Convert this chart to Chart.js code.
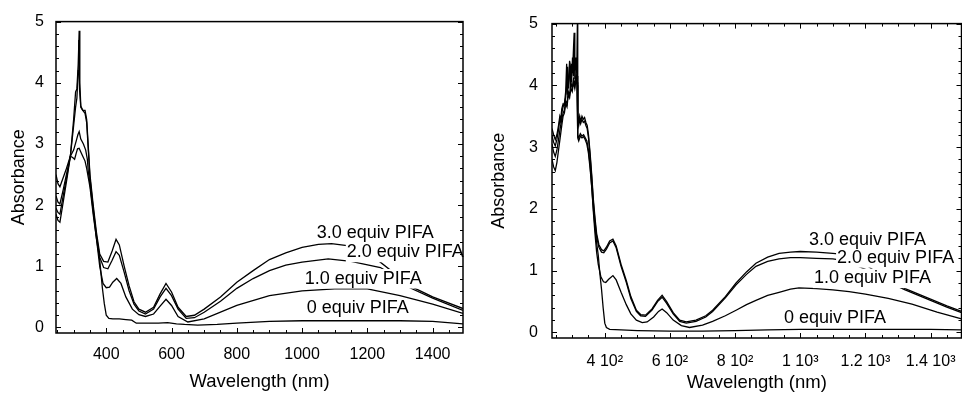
<!DOCTYPE html>
<html lang="en">
<head>
    <meta charset="UTF-8">
    <title>Absorbance vs wavelength - PIFA titration</title>
    <script src="https://cdn.jsdelivr.net/npm/chart.js"></script>
    <style>
        html, body {
            margin: 0;
            padding: 0;
            background: #fff;
            overflow: hidden;
        }
        #leftChart {
            position: absolute;
            left: 0;
            top: 0;
        }
        #rightChart {
            position: absolute;
            left: 480px;
            top: 0;
        }
    </style>
</head>
<body>
    <canvas id="leftChart" width="480" height="394"></canvas>
    <canvas id="rightChart" width="490" height="394"></canvas>

    <script>
        // series names (same for both panels)
        var seriesNames = ['0 equiv PIFA', '1.0 equiv PIFA', '2.0 equiv PIFA', '3.0 equiv PIFA'];

        // left panel: [wavelength nm, absorbance]
        var left0 = [[246,2.5],[252,2.35],[258,2.3],[266,2.42],[278,2.6],[290,2.8],[297,2.78],[303,2.75],[308,2.85],[312,2.92],[317,2.93],[322,2.87],[328,2.8],[335,2.72],[340,2.6],[345,2.45],[350,2.3],[360,1.85],[370,1.45],[380,1.1],[388,0.65],[394,0.39],[400,0.2],[408,0.15],[420,0.14],[440,0.14],[460,0.13],[478,0.12],[492,0.07],[520,0.07],[560,0.07],[588,0.08],[615,0.06],[640,0.05],[680,0.04],[740,0.05],[800,0.07],[900,0.1],[1000,0.11],[1150,0.11],[1300,0.11],[1400,0.1],[1493,0.06]];
        var left1 = [[246,2.15],[252,2.05],[258,2.02],[268,2.25],[280,2.55],[290,2.8],[300,2.9],[308,3.05],[313,3.15],[317,3.2],[322,3.08],[330,3.0],[337,2.9],[342,2.75],[345,2.55],[350,2.35],[360,1.9],[370,1.45],[380,1.0],[390,0.72],[400,0.65],[410,0.66],[420,0.74],[432,0.8],[445,0.72],[460,0.5],[480,0.3],[500,0.21],[520,0.18],[545,0.22],[565,0.35],[583,0.46],[600,0.36],[620,0.18],[650,0.09],[700,0.14],[800,0.36],[900,0.52],[1000,0.6],[1100,0.63],[1200,0.63],[1300,0.52],[1400,0.38],[1493,0.23]];
        var left2 = [[246,1.95],[252,1.88],[258,1.85],[268,2.15],[280,2.5],[290,2.8],[300,3.3],[306,3.6],[310,3.75],[314,4.2],[316,4.7],[318,3.9],[322,3.6],[328,3.55],[335,3.5],[340,3.35],[350,2.45],[360,1.95],[370,1.5],[380,1.15],[392,0.98],[405,0.96],[418,1.1],[430,1.24],[440,1.18],[455,0.9],[470,0.6],[485,0.38],[500,0.27],[520,0.22],[545,0.3],[565,0.5],[583,0.64],[600,0.52],[620,0.3],[645,0.15],[670,0.16],[700,0.25],[750,0.43],[800,0.64],[850,0.8],[900,0.93],[950,1.02],[1000,1.07],[1080,1.12],[1150,1.08],[1240,0.98],[1290,0.82],[1330,0.65],[1400,0.48],[1493,0.28]];
        var left3 = [[246,1.85],[252,1.75],[258,1.72],[268,2.05],[280,2.45],[290,2.8],[300,3.4],[306,3.85],[310,3.9],[314,4.3],[317,4.85],[319,4.0],[322,3.62],[328,3.55],[335,3.55],[340,3.4],[350,2.5],[360,2.0],[370,1.55],[380,1.2],[392,1.08],[405,1.07],[418,1.25],[430,1.44],[440,1.35],[455,1.0],[470,0.68],[485,0.42],[500,0.3],[520,0.25],[545,0.33],[565,0.55],[583,0.72],[600,0.58],[620,0.33],[645,0.18],[670,0.2],[700,0.3],[750,0.5],[800,0.74],[850,0.93],[900,1.11],[950,1.22],[1000,1.31],[1050,1.36],[1090,1.37],[1150,1.33],[1220,1.15],[1280,0.9],[1330,0.68],[1400,0.5],[1493,0.31]];

        // right panel: [wavelength nm, absorbance]
        var right0 = [[238,2.8],[243,2.68],[248,2.62],[253,2.75],[258,2.95],[263,3.15],[268,3.35],[272,3.5],[276,3.55],[280,3.7],[284,3.65],[288,3.85],[292,3.8],[296,3.95],[300,3.9],[304,4.05],[308,3.95],[312,4.1],[315,4.0],[317,3.15],[320,3.1],[325,3.18],[330,3.15],[335,3.17],[340,3.12],[345,3.05],[350,2.9],[355,2.65],[360,2.35],[365,2.0],[370,1.7],[375,1.45],[380,1.25],[385,0.95],[390,0.7],[395,0.4],[400,0.15],[405,0.08],[415,0.05],[450,0.04],[500,0.03],[600,0.02],[700,0.02],[800,0.03],[900,0.04],[1000,0.05],[1200,0.05],[1400,0.05],[1495,0.04]];
        var right1 = [[238,3.05],[243,2.92],[248,2.85],[253,2.95],[258,3.12],[263,3.3],[268,3.45],[272,3.55],[276,3.6],[280,3.75],[284,3.7],[288,3.9],[292,3.85],[296,4.05],[300,3.95],[304,4.1],[308,4.0],[312,4.2],[315,4.05],[317,3.2],[320,3.15],[325,3.22],[330,3.18],[335,3.2],[340,3.15],[345,3.1],[350,2.95],[355,2.7],[360,2.35],[365,1.95],[370,1.6],[375,1.3],[380,1.1],[388,0.9],[396,0.82],[403,0.81],[412,0.86],[425,0.92],[435,0.85],[450,0.65],[466,0.45],[480,0.3],[497,0.2],[515,0.16],[530,0.17],[550,0.25],[565,0.34],[576,0.38],[590,0.32],[610,0.2],[635,0.11],[660,0.08],[700,0.12],[731,0.18],[770,0.27],[803,0.36],[835,0.45],[864,0.52],[900,0.6],[935,0.65],[970,0.7],[996,0.72],[1050,0.71],[1100,0.69],[1150,0.66],[1200,0.62],[1270,0.55],[1343,0.46],[1420,0.33],[1495,0.22]];
        var right2 = [[238,3.18],[243,3.08],[248,3.02],[253,3.12],[258,3.28],[262,3.45],[265,3.4],[268,3.55],[272,3.65],[276,3.72],[280,3.8],[283,4.0],[286,4.3],[289,3.95],[292,4.2],[295,4.3],[298,4.05],[301,4.45],[304,4.15],[306,4.5],[309,4.25],[312,4.4],[315,4.15],[317,3.45],[320,3.35],[323,3.45],[326,3.38],[330,3.45],[334,3.4],[338,3.42],[342,3.35],[346,3.3],[350,3.15],[355,2.85],[360,2.5],[365,2.1],[370,1.8],[375,1.55],[382,1.38],[390,1.3],[397,1.29],[405,1.35],[415,1.45],[425,1.48],[435,1.37],[450,1.07],[466,0.81],[480,0.55],[497,0.34],[510,0.27],[525,0.26],[545,0.36],[562,0.5],[576,0.57],[590,0.47],[610,0.3],[630,0.18],[650,0.15],[680,0.18],[710,0.25],[731,0.34],[770,0.56],[803,0.77],[835,0.94],[864,1.07],[900,1.15],[935,1.19],[970,1.21],[1000,1.21],[1050,1.2],[1100,1.19],[1140,1.16],[1200,1.02],[1260,0.84],[1322,0.69],[1400,0.52],[1450,0.41],[1495,0.32]];
        var right3 = [[238,3.3],[243,3.2],[248,3.12],[253,3.2],[258,3.35],[262,3.5],[265,3.45],[268,3.62],[272,3.7],[276,3.68],[280,3.9],[283,4.35],[285,3.85],[289,4.1],[292,4.4],[295,4.0],[298,4.35],[301,4.2],[304,4.6],[306,4.85],[308,4.1],[311,4.45],[314,4.2],[316,5.05],[317,3.55],[320,3.4],[323,3.5],[326,3.42],[330,3.5],[334,3.45],[338,3.48],[342,3.4],[346,3.35],[350,3.2],[355,2.9],[360,2.55],[365,2.15],[370,1.85],[375,1.6],[382,1.42],[390,1.34],[397,1.32],[405,1.38],[415,1.48],[425,1.51],[435,1.4],[450,1.1],[466,0.84],[480,0.58],[497,0.36],[510,0.29],[525,0.28],[545,0.38],[562,0.52],[576,0.6],[590,0.5],[610,0.32],[630,0.2],[650,0.17],[680,0.2],[710,0.27],[731,0.36],[770,0.58],[803,0.8],[835,0.98],[864,1.12],[900,1.22],[935,1.28],[970,1.3],[1000,1.31],[1050,1.3],[1100,1.28],[1140,1.26],[1200,1.1],[1260,0.88],[1322,0.71],[1400,0.54],[1450,0.43],[1495,0.34]];

        // tick values and labels
        var xTickValues = [400, 600, 800, 1000, 1200, 1400];
        var leftXTickLabels = ['400', '600', '800', '1000', '1200', '1400'];
        var rightXTickLabels = ['4 10\u00B2', '6 10\u00B2', '8 10\u00B2', '1 10\u00B3', '1.2 10\u00B3', '1.4 10\u00B3'];
        var yTickValues = [0, 1, 2, 3, 4, 5];

        // where the series name sits (data units, left end of the text)
        var leftLabelNm = [1014, 1008, 1137, 1045];
        var leftLabelAbs = [0.31, 0.80, 1.23, 1.55];
        var rightLabelNm = [950, 1042, 1113, 1027];
        var rightLabelAbs = [0.24, 0.88, 1.21, 1.50];

        var FONT = "'Liberation Sans', Arial, Helvetica, sans-serif";
        Chart.defaults.font.family = FONT;
        Chart.defaults.color = '#000';

        // frame, inward ticks and white-backed series labels
        var framePlugin = {
            id: 'frame',
            afterDatasetsDraw: function (chart, args, opts) {
                var ctx = chart.ctx;
                var a = chart.chartArea;
                var x = chart.scales.x;
                var y = chart.scales.y;
                ctx.save();

                // series labels
                ctx.font = '18px ' + FONT;
                ctx.textBaseline = 'middle';
                ctx.textAlign = 'left';
                opts.labels.forEach(function (lb) {
                    var px = x.getPixelForValue(lb.nm);
                    var py = y.getPixelForValue(lb.abs);
                    var w = ctx.measureText(lb.text).width;
                    ctx.fillStyle = '#fff';
                    ctx.fillRect(px - 1, py - 9.5, w + 2, 19.5);
                    ctx.fillStyle = '#000';
                    ctx.fillText(lb.text, px, py);
                });

                ctx.strokeStyle = '#000';
                ctx.lineWidth = 1;
                ctx.beginPath();
                var v, p, len;
                // x ticks every 50 nm, major every 200
                for (v = Math.ceil(x.min / 50) * 50; v <= x.max; v += 50) {
                    p = Math.round(x.getPixelForValue(v)) + 0.5;
                    len = (v % 200 === 0) ? 5 : 3;
                    if (opts.sides.indexOf('bottom') >= 0) {
                        ctx.moveTo(p, a.bottom);
                        ctx.lineTo(p, a.bottom - len);
                    }
                    if (opts.sides.indexOf('top') >= 0) {
                        ctx.moveTo(p, a.top);
                        ctx.lineTo(p, a.top + len);
                    }
                }
                // y ticks every 0.2, major every 1
                for (var i = 0; i <= 25; i++) {
                    v = i * 0.2;
                    p = Math.round(y.getPixelForValue(v)) + 0.5;
                    len = (i % 5 === 0) ? 5 : 3;
                    if (opts.sides.indexOf('left') >= 0) {
                        ctx.moveTo(a.left, p);
                        ctx.lineTo(a.left + len, p);
                    }
                    if (opts.sides.indexOf('right') >= 0) {
                        ctx.moveTo(a.right, p);
                        ctx.lineTo(a.right - len, p);
                    }
                }
                ctx.stroke();

                ctx.lineWidth = 1.5;
                ctx.strokeRect(a.left, a.top, a.right - a.left, a.bottom - a.top);
                ctx.restore();
            }
        };

        function buildDatasets(list) {
            return list.map(function (pts, i) {
                return {
                    label: seriesNames[i],
                    data: pts.map(function (d) { return { x: d[0], y: d[1] }; }),
                    borderColor: '#000',
                    borderWidth: 1.3,
                    pointRadius: 0,
                    tension: 0,
                    fill: false
                };
            });
        }

        function makeChart(id, cfg) {
            var labels = seriesNames.map(function (t, i) {
                return { text: t, nm: cfg.labelNm[i], abs: cfg.labelAbs[i] };
            });
            return new Chart(document.getElementById(id), {
                type: 'line',
                data: { datasets: buildDatasets(cfg.series) },
                options: {
                    responsive: false,
                    animation: false,
                    events: [],
                    layout: { padding: { top: 21, right: cfg.padRight, left: 0, bottom: 0 } },
                    plugins: {
                        legend: { display: false },
                        tooltip: { enabled: false },
                        frame: { sides: cfg.sides, labels: labels }
                    },
                    scales: {
                        x: {
                            type: 'linear',
                            min: cfg.xMin,
                            max: cfg.xMax,
                            grid: { display: false, drawTicks: false },
                            border: { display: false },
                            afterBuildTicks: function (scale) {
                                scale.ticks = xTickValues.map(function (v) { return { value: v }; });
                            },
                            afterFit: function (scale) { scale.height = cfg.xHeight; },
                            ticks: {
                                maxRotation: 0,
                                autoSkip: false,
                                padding: cfg.xTickPad,
                                font: { size: 16 },
                                callback: function (val) {
                                    return cfg.xLabels[xTickValues.indexOf(val)];
                                }
                            },
                            title: {
                                display: true,
                                text: 'Wavelength (nm)',
                                font: { size: 18.5 },
                                padding: { top: 0, bottom: cfg.xTitlePad }
                            }
                        },
                        y: {
                            min: -0.09,
                            max: 5,
                            grid: { display: false, drawTicks: false },
                            border: { display: false },
                            afterBuildTicks: function (scale) {
                                scale.ticks = yTickValues.map(function (v) { return { value: v }; });
                            },
                            afterFit: function (scale) { scale.width = cfg.yWidth; },
                            ticks: {
                                padding: cfg.yTickPad,
                                font: { size: 16 },
                                callback: function (val) { return String(val); }
                            },
                            title: {
                                display: true,
                                text: 'Absorbance',
                                font: { size: 18 },
                                padding: { top: 8, bottom: 0 }
                            }
                        }
                    }
                },
                plugins: [framePlugin]
            });
        }

        makeChart('leftChart', {
            series: [left0, left1, left2, left3],
            labelNm: leftLabelNm,
            labelAbs: leftLabelAbs,
            xMin: 246, xMax: 1493,
            xLabels: leftXTickLabels,
            sides: ['left', 'right', 'bottom'],
            padRight: 17,
            xHeight: 61,
            yWidth: 56,
            xTickPad: 12,
            yTickPad: 12,
            xTitlePad: 0.5
        });

        makeChart('rightChart', {
            series: [right0, right1, right2, right3],
            labelNm: rightLabelNm,
            labelAbs: rightLabelAbs,
            xMin: 238, xMax: 1495,
            xLabels: rightXTickLabels,
            sides: ['left', 'right', 'bottom', 'top'],
            padRight: 7,
            xHeight: 56,
            yWidth: 72,
            xTickPad: 14,
            yTickPad: 14,
            xTitlePad: 0
        });
    </script>
</body>
</html>
